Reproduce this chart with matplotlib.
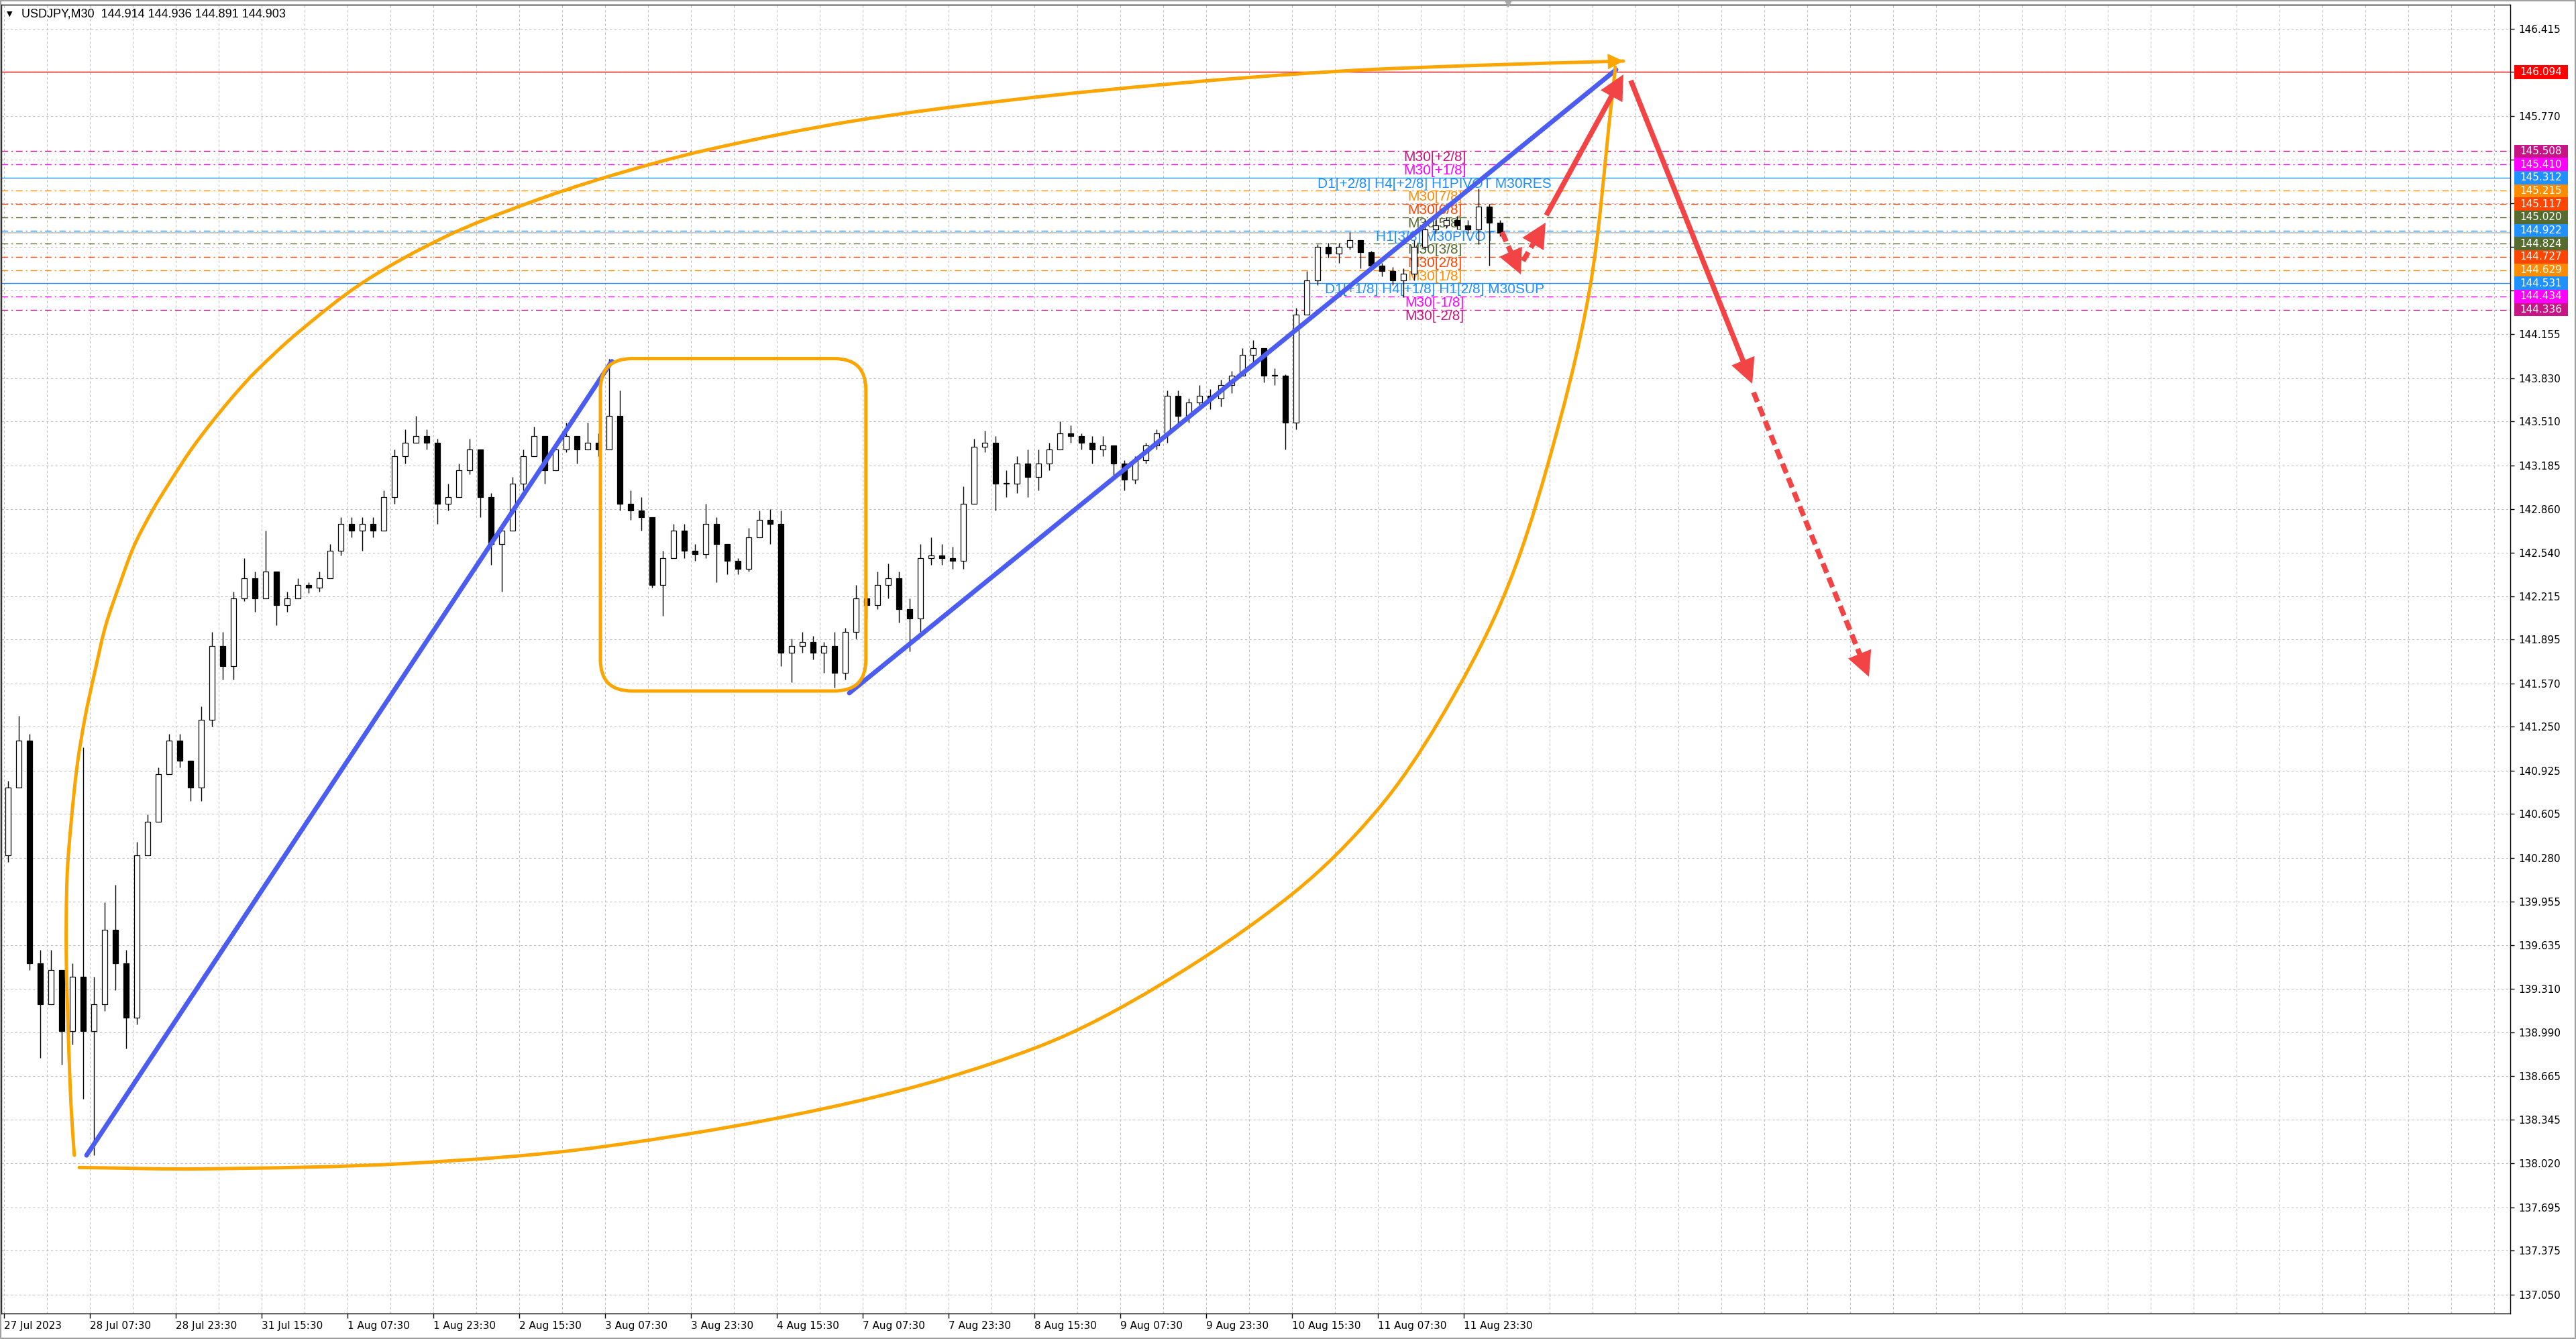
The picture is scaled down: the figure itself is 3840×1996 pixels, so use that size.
#! /usr/bin/env python3

'''
USDJPY M30 chart with Murrey levels and hand drawn forecast, MT4 style
'''

import numpy as np
import matplotlib
matplotlib.use('Agg')
import matplotlib.pyplot as plt
from matplotlib.patches import FancyBboxPatch, Rectangle, PathPatch
from matplotlib.path import Path
from matplotlib.transforms import blended_transform_factory

W, H, DPI = 3840, 1996, 100

# one drawn candle = 4 M30 bars (2 hours); open of each candle is the previous close
bar_step = 4
first_open = 140.30
closes = [140.80, 141.15, 139.50, 139.20, 139.45, 139.00, 139.40, 139.00, 139.20, 139.75,
          139.50, 139.10, 140.30, 140.55, 140.90, 141.15, 141.00, 140.80, 141.30, 141.85,
          141.70, 142.20, 142.35, 142.20, 142.40, 142.15, 142.20, 142.30, 142.28, 142.35,
          142.55, 142.75, 142.70, 142.75, 142.70, 142.95, 143.25, 143.35, 143.40, 143.35,
          142.90, 142.95, 143.15, 143.30, 142.95, 142.60, 142.70, 143.05, 143.25, 143.40,
          143.15, 143.30, 143.40, 143.30, 143.35, 143.30, 143.55, 142.90, 142.85, 142.80,
          142.30, 142.50, 142.70, 142.55, 142.53, 142.75, 142.60, 142.48, 142.42, 142.65,
          142.78, 142.75, 141.80, 141.85, 141.88, 141.80, 141.85, 141.65, 141.95, 142.20,
          142.15, 142.30, 142.35, 142.12, 142.05, 142.50, 142.52, 142.50, 142.48, 142.90,
          143.32, 143.35, 143.05, 143.05, 143.20, 143.10, 143.20, 143.30, 143.42, 143.40,
          143.35, 143.30, 143.33, 143.20, 143.08, 143.22, 143.33, 143.42, 143.70, 143.55,
          143.65, 143.70, 143.68, 143.78, 143.85, 144.00, 144.05, 143.85, 143.85, 143.50,
          144.30, 144.55, 144.80, 144.75, 144.80, 144.85, 144.76, 144.66, 144.62, 144.55,
          144.60, 144.80, 144.93, 144.96, 145.00, 144.96, 144.93, 145.10, 144.98, 144.903]
highs = [140.85, 141.33, 141.20, 139.60, 139.60, 139.45, 139.50, 141.10, 139.40, 139.95,
         140.08, 139.60, 140.40, 140.60, 140.95, 141.20, 141.20, 141.00, 141.40, 141.95,
         141.95, 142.25, 142.50, 142.40, 142.70, 142.35, 142.25, 142.35, 142.32, 142.40,
         142.60, 142.80, 142.80, 142.80, 142.80, 143.00, 143.30, 143.45, 143.55, 143.45,
         143.38, 143.05, 143.20, 143.38, 143.30, 142.98, 142.75, 143.10, 143.30, 143.47,
         143.40, 143.35, 143.50, 143.40, 143.50, 143.42, 143.97, 143.74, 143.00, 142.95,
         142.80, 142.55, 142.75, 142.75, 142.60, 142.90, 142.80, 142.60, 142.50, 142.72,
         142.85, 142.86, 142.85, 141.90, 141.95, 141.92, 141.88, 141.95, 141.98, 142.30,
         142.25, 142.40, 142.46, 142.40, 142.20, 142.60, 142.65, 142.60, 142.58, 143.03,
         143.38, 143.44, 143.40, 143.15, 143.25, 143.30, 143.30, 143.35, 143.51, 143.48,
         143.42, 143.40, 143.40, 143.30, 143.22, 143.25, 143.35, 143.45, 143.74, 143.74,
         143.68, 143.78, 143.75, 143.82, 143.88, 144.05, 144.11, 144.00, 143.90, 143.86,
         144.35, 144.62, 144.82, 144.83, 144.83, 144.91, 144.85, 144.77, 144.68, 144.65,
         144.64, 144.85, 145.00, 145.00, 145.02, 145.03, 145.00, 145.23, 145.12, 145.00]
lows = [140.25, 140.95, 139.45, 138.80, 139.30, 138.75, 138.90, 138.50, 138.08, 139.15,
        139.30, 138.87, 139.05, 140.30, 140.70, 140.95, 140.95, 140.70, 140.70, 141.25,
        141.60, 141.60, 142.18, 142.10, 142.20, 142.00, 142.10, 142.20, 142.24, 142.25,
        142.35, 142.52, 142.65, 142.55, 142.65, 142.70, 142.90, 143.20, 143.35, 143.30,
        142.75, 142.85, 142.95, 143.12, 142.80, 142.45, 142.25, 142.70, 143.00, 143.25,
        143.05, 143.15, 143.28, 143.20, 143.30, 143.25, 143.30, 142.85, 142.78, 142.70,
        142.28, 142.07, 142.50, 142.50, 142.48, 142.50, 142.32, 142.38, 142.38, 142.40,
        142.65, 142.60, 141.70, 141.58, 141.80, 141.75, 141.65, 141.54, 141.60, 141.90,
        142.05, 142.12, 142.20, 142.02, 141.81, 141.95, 142.45, 142.45, 142.42, 142.42,
        142.90, 143.28, 142.85, 142.95, 142.98, 142.95, 143.00, 143.15, 143.30, 143.35,
        143.30, 143.20, 143.25, 143.10, 143.00, 143.05, 143.20, 143.30, 143.35, 143.50,
        143.50, 143.62, 143.60, 143.62, 143.72, 143.85, 143.95, 143.80, 143.78, 143.30,
        143.45, 144.30, 144.52, 144.72, 144.68, 144.78, 144.64, 144.64, 144.58, 144.52,
        144.43, 144.55, 144.78, 144.90, 144.94, 144.93, 144.90, 144.82, 144.66, 144.88]

time_labels = ['27 Jul 2023', '28 Jul 07:30', '28 Jul 23:30', '31 Jul 15:30', '1 Aug 07:30',
               '1 Aug 23:30', '2 Aug 15:30', '3 Aug 07:30', '3 Aug 23:30', '4 Aug 15:30',
               '7 Aug 07:30', '7 Aug 23:30', '8 Aug 15:30', '9 Aug 07:30', '9 Aug 23:30',
               '10 Aug 15:30', '11 Aug 07:30', '11 Aug 23:30']
price_ticks = [146.415, 146.095, 145.770, 145.445, 145.125, 144.800, 144.480, 144.155,
               143.830, 143.510, 143.185, 142.860, 142.540, 142.215, 141.895, 141.570,
               141.250, 140.925, 140.605, 140.280, 139.955, 139.635, 139.310, 138.990,
               138.665, 138.345, 138.020, 137.695, 137.375, 137.050]

level_prices = [145.508, 145.410, 145.312, 145.215, 145.117, 145.020, 144.922,
                144.824, 144.727, 144.629, 144.531, 144.434, 144.336]
level_colors = ['#C71585', '#FF00FF', '#1E90FF', '#FF8C00', '#FF4500', '#556B2F', '#1E90FF',
                '#556B2F', '#FF4500', '#FF8C00', '#1E90FF', '#FF00FF', '#C71585']
level_labels = ['M30[+2/8]', 'M30[+1/8]', 'D1[+2/8] H4[+2/8] H1PIVOT M30RES', 'M30[7/8]',
                'M30[6/8]', 'M30[5/8]', 'H1[3/8] M30PIVOT', 'M30[3/8]', 'M30[2/8]',
                'M30[1/8]', 'D1[+1/8] H4[+1/8] H1[2/8] M30SUP', 'M30[-1/8]', 'M30[-2/8]']
level_solid = [False, False, True, False, False, False, False,
               False, False, False, True, False, False]
red_level = 146.094
bid_price = 144.903

# drawings, x in M30 bar index, y in price
blue_lines = [((30.75, 138.08), (226.5, 143.954)),
              ((315.0, 141.50), (600.75, 146.111))]
box_x = (222.25, 321.2)
box_y = (141.515, 143.974)
upper_curve_x = [26.2, 25.0, 24.0, 23.2, 23.5, 25.0, 27.3, 30.3, 34.1, 37.9, 43.2, 48.5, 55.3,
                 62.1, 69.7, 77.3, 85.6, 93.9, 109.75, 134.0, 164.4, 194.75, 225.0, 261.4,
                 316.0, 376.5, 437.0, 497.75, 548.6, 603.5]
upper_curve_y = [138.08, 138.44, 138.95, 139.55, 140.14, 140.54, 140.97, 141.33, 141.68, 142.00,
                 142.31, 142.59, 142.85, 143.07, 143.30, 143.50, 143.70, 143.88, 144.17, 144.54,
                 144.875, 145.12, 145.32, 145.515, 145.73, 145.89, 146.01, 146.10, 146.143, 146.175]
lower_curve_x = [28.0, 74.0, 150.0, 223.5, 316.75, 385.0, 430.75, 480.5, 511.6, 534.5,
                 558.25, 575.0, 590.75, 599.0, 600.5]
lower_curve_y = [137.99, 137.98, 138.02, 138.145, 138.475, 138.88, 139.34, 140.02, 140.63,
                 141.284, 142.185, 143.168, 144.468, 145.858, 146.13]
red_arrows = [((558.25, 144.910), (565.25, 144.597), True),
              ((566.1, 144.696), (574.5, 144.980), True),
              ((574.75, 145.034), (603.5, 146.076), False),
              ((606.25, 146.031), (651.5, 143.788), False),
              ((652.0, 143.724), (695.0, 141.620), True)]

RED = '#F24444'
BLUE = '#4A5DF0'
ORANGE = '#FAA500'
GRID = '#C0C0C0'


def head(ax, p0, p1, color, scale):
    ax.annotate('', xy=p1, xytext=p0, zorder=5,
                arrowprops=dict(arrowstyle='-|>,head_length=0.7,head_width=0.35',
                                mutation_scale=scale, color=color, lw=0,
                                shrinkA=0, shrinkB=0))


def back_off(ax, p0, p1, px):
    # point px pixels before p1 on the segment p0-p1
    a = ax.transData.transform(p0)
    b = ax.transData.transform(p1)
    d = (b - a) / np.hypot(*(b - a))
    return ax.transData.inverted().transform(b - d * px)


def smooth_path(ax, xs, ys):
    # bezier path through the read points (tangents taken in pixel space)
    pts = ax.transData.transform(np.column_stack([xs, ys]))
    n = len(pts)
    verts, codes = [pts[0]], [Path.MOVETO]
    for i in range(n - 1):
        p0, p1 = pts[i], pts[i + 1]
        a = pts[i - 1] if i > 0 else p0
        b = pts[i + 2] if i + 2 < n else p1
        t0 = (p1 - a) / np.hypot(*(p1 - a))
        t1 = (b - p0) / np.hypot(*(b - p0))
        L = np.hypot(*(p1 - p0)) / 3
        verts += [p0 + t0 * L, p1 - t1 * L, p1]
        codes += [Path.CURVE4] * 3
    return Path(ax.transData.inverted().transform(np.array(verts)), codes)


def draw_candles(ax):
    c = np.array(closes)
    o = np.array([first_open] + closes[:-1])
    x = np.arange(len(c)) * bar_step + 1.5
    ax.vlines(x, lows, highs, color='black', lw=1.0, zorder=3)
    body = np.where(np.abs(c - o) < 0.004, 0.004, c - o)
    ax.bar(x, body, bottom=o, width=1.8, color=np.where(c >= o, 'white', 'black'),
           edgecolor='black', lw=0.9, zorder=3.1)


def main():
    fig = plt.figure(figsize=(W / DPI, H / DPI), dpi=DPI)
    ax = fig.add_axes([2 / W, 38 / H, 3740 / W, (1958 - 7) / H])
    ax.set_xlim(-1, 934)
    ax.set_ylim(136.910, 146.592)
    ax.set_autoscale_on(False)

    # axes and grid
    ax.yaxis.tick_right()
    ax.set_yticks(price_ticks)
    ax.set_yticklabels(['%.3f' % p for p in price_ticks])
    ax.set_xticks([32 * i for i in range(len(time_labels))])
    ax.set_xticklabels(time_labels)
    ax.set_xticks([16 * i for i in range(59)], minor=True)
    for lab in ax.get_xticklabels():
        lab.set_horizontalalignment('left')
    ax.tick_params(axis='y', direction='out', length=4, pad=5, labelsize=11, width=1)
    ax.tick_params(axis='x', which='major', direction='out', length=5, pad=3, labelsize=11, width=1)
    ax.tick_params(axis='x', which='minor', length=0)
    ax.grid(True, which='both', color=GRID, linestyle=(0, (3, 3)), lw=0.8, zorder=0.5)
    ax.set_axisbelow(True)
    for s in ax.spines.values():
        s.set_color('black')
        s.set_linewidth(1.0)

    # Murrey levels and their texts
    for p, col, lab, solid in zip(level_prices, level_colors, level_labels, level_solid):
        ax.axhline(p, color=col, lw=1.0, zorder=1,
                   linestyle='-' if solid else (0, (7, 3.5, 1.5, 3.5)))
        ax.text(533.2, p, lab, color=col, ha='center', va='top', fontsize=15,
                family='Liberation Sans', zorder=2)
    ax.axhline(red_level, color='#FF0000', lw=1.0, zorder=1)
    ax.axhline(bid_price, color='#BDBDBD', lw=1.2, zorder=1)

    draw_candles(ax)

    # drawings
    for p0, p1 in blue_lines:
        ax.plot([p0[0], p1[0]], [p0[1], p1[1]], color=BLUE, lw=5, solid_capstyle='round', zorder=4)
    ax.add_patch(FancyBboxPatch((box_x[0], box_y[0]), box_x[1] - box_x[0], box_y[1] - box_y[0],
                                boxstyle='round,pad=0,rounding_size=11.75', mutation_aspect=0.0198,
                                fill=False, edgecolor=ORANGE, lw=3.6, zorder=4))
    ax.add_patch(PathPatch(smooth_path(ax, upper_curve_x, upper_curve_y), fill=False,
                           edgecolor=ORANGE, lw=3.6, zorder=4, capstyle='round'))
    head(ax, (upper_curve_x[-2], upper_curve_y[-2]), (upper_curve_x[-1], upper_curve_y[-1]), ORANGE, 24)
    ax.add_patch(PathPatch(smooth_path(ax, lower_curve_x, lower_curve_y), fill=False,
                           edgecolor=ORANGE, lw=3.6, zorder=4, capstyle='round'))

    for p0, p1, dashed in red_arrows:
        end = back_off(ax, p0, p1, 26)
        kw = dict(color=RED, lw=5.5, zorder=5, solid_capstyle='butt')
        if dashed:
            kw['dashes'] = (2.0, 1.0)
            kw['dash_capstyle'] = 'butt'
        ax.plot([p0[0], end[0]], [p0[1], end[1]], **kw)
        head(ax, p0, p1, RED, 38)

    # price boxes on the right scale
    trans = blended_transform_factory(fig.transFigure, ax.transData)
    boxes = [(red_level, '#FF0000', 0.052)] + [(p, c, 0.0487) for p, c in zip(level_prices, level_colors)]
    for p, col, half in boxes:
        ax.add_patch(Rectangle((3748 / W, p - half), 80 / W, 2 * half, transform=trans,
                               facecolor=col, edgecolor='none', clip_on=False, zorder=6))
        ax.text(3756 / W, p, '%.3f' % p, transform=trans, color='white', fontsize=11,
                ha='left', va='center', clip_on=False, zorder=7)

    ax.plot([560.5], [146.60], marker='v', ms=7, color='#A8A8A8', clip_on=False, zorder=6)

    fig.text(10 / W, 1 - 21 / H, '\u25bc', fontsize=8, family='DejaVu Sans', va='center')
    fig.text(32 / W, 1 - 21 / H, 'USDJPY,M30  144.914 144.936 144.891 144.903',
             fontsize=13, family='Liberation Sans', va='center')
    fig.patches.append(Rectangle((0, 0), 1, 1, transform=fig.transFigure, fill=False,
                                 edgecolor='#A0A0A0', lw=3))

    fig.savefig('out.png', dpi=DPI, facecolor='white')


if __name__ == '__main__':
    main()
